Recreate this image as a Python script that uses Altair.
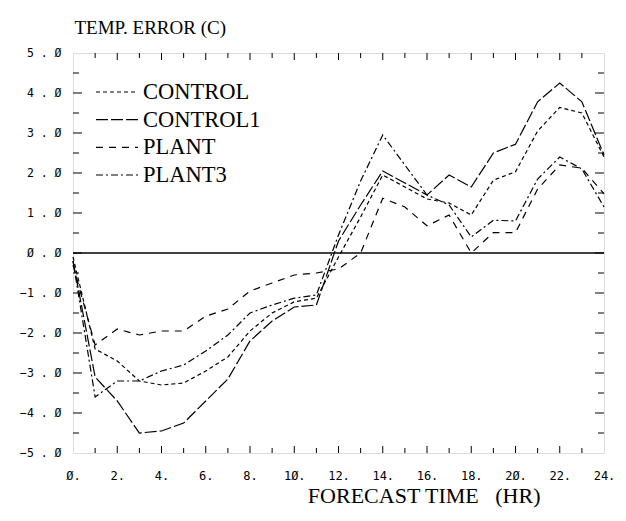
import altair as alt
import pandas as pd

hours = list(range(25))
control = [-0.1, -2.4, -2.7, -3.2, -3.3, -3.25, -2.95, -2.6, -1.95, -1.5, -1.22, -1.13, -0.1, 0.9, 1.95, 1.65, 1.35, 1.25, 0.95, 1.82, 2.03, 3.05, 3.64, 3.5, 2.4]
control1 = [-0.2, -3.1, -3.7, -4.5, -4.45, -4.25, -3.7, -3.15, -2.2, -1.7, -1.35, -1.3, 0.3, 1.2, 2.05, 1.75, 1.45, 1.95, 1.65, 2.5, 2.72, 3.78, 4.25, 3.78, 2.45]
plant = [-0.3, -2.3, -1.9, -2.05, -1.95, -1.95, -1.58, -1.4, -0.95, -0.75, -0.55, -0.5, -0.4, 0.0, 1.37, 1.15, 0.68, 0.95, 0.0, 0.51, 0.51, 1.6, 2.2, 2.12, 1.48]
plant3 = [-0.2, -3.6, -3.2, -3.2, -2.95, -2.8, -2.45, -2.05, -1.5, -1.3, -1.13, -1.05, 0.45, 1.8, 2.95, 2.2, 1.45, 1.2, 0.4, 0.82, 0.8, 1.85, 2.4, 2.1, 1.15]

series_names = ["CONTROL", "CONTROL1", "PLANT", "PLANT3"]
series_dashes = [[4, 3], [12, 3], [7, 6], [7, 3, 2, 3]]

y_major = [-5, -4, -3, -2, -1, 0, 1, 2, 3, 4, 5]
y_minor = [-4.5, -3.5, -2.5, -1.5, -0.5, 0.5, 1.5, 2.5, 3.5, 4.5]
y_labels = ["\u22125 . Ø", "\u22124 . Ø", "\u22123 . Ø", "\u22122 . Ø", "\u22121 . Ø", "Ø . Ø",
            "1 . Ø", "2 . Ø", "3 . Ø", "4 . Ø", "5 . Ø"]
x_major = [0, 2, 4, 6, 8, 10, 12, 14, 16, 18, 20, 22, 24]
x_minor = [1, 3, 5, 7, 9, 11, 13, 15, 17, 19, 21, 23]
x_labels = ["Ø.", "2.", "4.", "6.", "8.", "1Ø.", "12.", "14.", "16.", "18.", "2Ø.", "22.", "24."]

W, H = 531, 400

rows = []
for name, vals in zip(series_names, [control, control1, plant, plant3]):
    for h, v in zip(hours, vals):
        rows.append({"series": name, "hour": h, "value": v})
df = pd.DataFrame(rows)

xscale = alt.Scale(domain=[0, 24], nice=False, zero=False)
yscale = alt.Scale(domain=[-5, 5], nice=False, zero=False)

y_label_expr = "[" + ",".join("'%s'" % s for s in y_labels) + "][datum.value + 5]"
x_label_expr = "[" + ",".join("'%s'" % s for s in x_labels) + "][datum.value / 2]"

x_axis = alt.Axis(values=x_major, labelExpr=x_label_expr, tickSize=0, domain=False, grid=False,
                  labelFont="DejaVu Sans Mono", labelFontSize=12, labelColor="black", labelPadding=17,
                  labelFlush=False, labelOverlap=False,
                  title="FORECAST TIME\u00a0\u00a0\u00a0(HR)", titleFont="Liberation Serif", titleFontSize=22,
                  titleFontWeight="normal", titleColor="black", titleAlign="right", titleX=467, titleY=42,
                  titleBaseline="middle")
y_axis = alt.Axis(values=y_major, labelExpr=y_label_expr, tickSize=0, domain=False, grid=False,
                  labelFont="DejaVu Sans Mono", labelFontSize=11.5, labelColor="black", labelPadding=12,
                  labelFlush=False, labelOverlap=False,
                  title="TEMP. ERROR (C)", titleFont="Liberation Serif", titleFontSize=19,
                  titleFontWeight="normal", titleColor="black", titleAngle=0, titleAlign="left",
                  titleX=1, titleY=-20, titleBaseline="alphabetic")

def X(field):
    return alt.X(field, scale=xscale, axis=x_axis)

def Y(field):
    return alt.Y(field, scale=yscale, axis=y_axis)

lines = alt.Chart(df).mark_line(color="black", strokeWidth=1.2).encode(
    x=X("hour:Q"),
    y=Y("value:Q"),
    strokeDash=alt.StrokeDash("series:N", scale=alt.Scale(domain=series_names, range=series_dashes), legend=None),
    detail="series:N",
)

zero = alt.Chart(pd.DataFrame({"value": [0]})).mark_rule(color="black", strokeWidth=1.3).encode(
    y=Y("value:Q"))

ymaj = pd.DataFrame({"value": y_major[1:-1]})
ymin = pd.DataFrame({"value": y_minor})
xmaj = pd.DataFrame({"hour": x_major[1:-1]})
xmin = pd.DataFrame({"hour": x_minor})

def yticks(d, length):
    base = alt.Chart(d).mark_rule(color="black", strokeWidth=1)
    left = base.encode(y=Y("value:Q"), x=alt.value(0), x2=alt.value(length))
    right = base.encode(y=Y("value:Q"), x=alt.value(W), x2=alt.value(W - length))
    return [left, right]

def xticks(d, length):
    base = alt.Chart(d).mark_rule(color="black", strokeWidth=1)
    bottom = base.encode(x=X("hour:Q"), y=alt.value(H), y2=alt.value(H - length))
    top = base.encode(x=X("hour:Q"), y=alt.value(0), y2=alt.value(length))
    return [bottom, top]

main = alt.layer(lines, zero, *yticks(ymaj, 9), *yticks(ymin, 6), *xticks(xmaj, 7), *xticks(xmin, 5))

leg_df = pd.DataFrame({"series": series_names})
leg_y = alt.Y("series:N", scale=alt.Scale(domain=series_names, range=[39, 122], type="point", padding=0), axis=None)
leg_lines = alt.Chart(leg_df).mark_rule(color="black", strokeWidth=1.2).encode(
    y=leg_y, x=alt.value(23), x2=alt.value(65),
    strokeDash=alt.StrokeDash("series:N", scale=alt.Scale(domain=series_names, range=series_dashes), legend=None),
)
leg_text = alt.Chart(leg_df).mark_text(align="left", baseline="middle", font="Liberation Serif",
                                       fontSize=22.5, color="black").encode(
    y=leg_y, x=alt.value(70), text="series:N")
legend = alt.layer(leg_lines, leg_text)

chart = alt.layer(main, legend).resolve_scale(y="independent", strokeDash="independent").properties(
    width=W, height=H,
    autosize=alt.AutoSizeParams(type="none"),
    padding={"left": 73, "top": 53, "right": 22, "bottom": 68},
).configure_view(stroke="black", strokeWidth=1.5).configure(background="white")

chart.save("out.html", embed_options={"renderer": "svg", "actions": False})
